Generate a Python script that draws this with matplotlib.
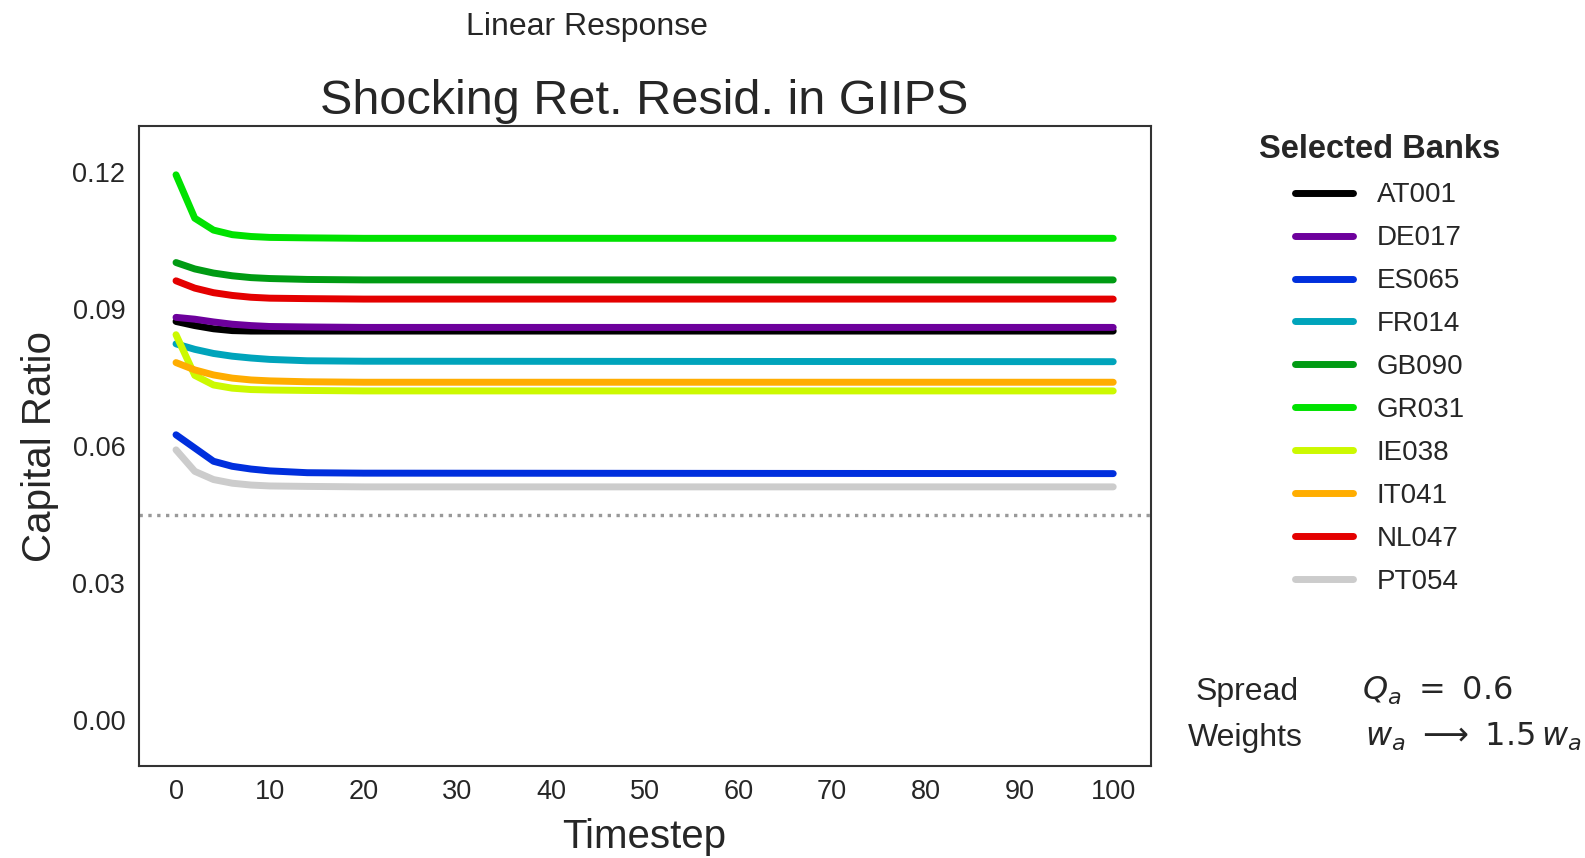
import numpy as np
import matplotlib
matplotlib.use('Agg')
import matplotlib.pyplot as plt
import seaborn as sns

# data
timestep = [0, 2, 4, 6, 8, 10, 14, 20, 100]
banks = ['AT001', 'DE017', 'ES065', 'FR014', 'GB090',
         'GR031', 'IE038', 'IT041', 'NL047', 'PT054']
at001 = [0.0873, 0.0864, 0.0857, 0.0853, 0.0852, 0.0852, 0.0852, 0.0852, 0.0852]
de017 = [0.0882, 0.0878, 0.0872, 0.0867, 0.0864, 0.0862, 0.0861, 0.0860, 0.0860]
es065 = [0.0625, 0.0596, 0.0567, 0.0556, 0.0550, 0.0546, 0.0542, 0.0541, 0.0540]
fr014 = [0.0824, 0.0812, 0.0803, 0.0797, 0.0793, 0.0790, 0.0787, 0.0786, 0.0785]
gb090 = [0.1002, 0.0988, 0.0979, 0.0973, 0.0969, 0.0967, 0.0965, 0.0964, 0.0964]
gr031 = [0.1194, 0.1099, 0.1073, 0.1063, 0.1059, 0.1057, 0.1056, 0.1055, 0.1055]
ie038 = [0.0844, 0.0755, 0.0734, 0.0727, 0.0724, 0.0723, 0.0722, 0.0721, 0.0721]
it041 = [0.0783, 0.0767, 0.0756, 0.0749, 0.0745, 0.0743, 0.0741, 0.0740, 0.0740]
nl047 = [0.0962, 0.0946, 0.0936, 0.0930, 0.0926, 0.0924, 0.0923, 0.0922, 0.0922]
pt054 = [0.0592, 0.0545, 0.0527, 0.0519, 0.0515, 0.0513, 0.0512, 0.0511, 0.0511]
series = [at001, de017, es065, fr014, gb090, gr031, ie038, it041, nl047, pt054]
threshold = 0.045
xticks = [0, 10, 20, 30, 40, 50, 60, 70, 80, 90, 100]
yticks = [0.00, 0.03, 0.06, 0.09, 0.12]

sns.set_style('white')
plt.rcParams['font.family'] = ['Liberation Sans', 'DejaVu Sans']

fig = plt.figure(figsize=(15.85, 8.58), dpi=100)
ax = fig.add_axes([0.0874, 0.1072, 0.6386, 0.7455])

colors = plt.cm.nipy_spectral(np.linspace(0, 1, len(banks)))
for name, vals, c in zip(banks, series, colors):
    ax.plot(timestep, vals, color=c, lw=5, label=name, solid_capstyle='round')
ax.axhline(threshold, color='0.6', ls=':', lw=2.4)

ax.set_xlim(-4, 104)
ax.set_ylim(-0.01, 0.13)
ax.set_xticks(xticks)
ax.set_yticks(yticks)
ax.set_yticklabels(['%.2f' % v for v in yticks])
ax.tick_params(labelsize=19.5, pad=9.5, colors='0.15', length=0)
for s in ax.spines.values():
    s.set_color('0.2')
    s.set_linewidth(1.5)

ax.set_xlabel('Timestep', fontsize=29, color='0.15', labelpad=9)
ax.set_ylabel('Capital Ratio', fontsize=29, color='0.15')
ax.yaxis.set_label_coords(-0.079, 0.5)
ax.set_title('Shocking Ret. Resid. in GIIPS', fontsize=35, pad=9, color='0.15')
fig.text(0.370, 1 - 35.4 / 858, 'Linear Response', ha='center', va='baseline',
         fontsize=23, color='0.15')

leg = ax.legend(title='Selected Banks', loc='upper center',
                bbox_to_anchor=(0.8707, 0.8725), bbox_transform=fig.transFigure,
                frameon=False, fontsize=20, title_fontsize=23.5,
                handlelength=2.1, handletextpad=0.85, labelspacing=0.61)
leg.get_title().set_fontweight('bold')
leg.get_title().set_color('0.15')
for t in leg.get_texts():
    t.set_color('0.15')

fig.text(0.7868, 1 - 700 / 858, 'Spread', ha='center', va='baseline', fontsize=23, color='0.15')
fig.text(0.7855, 1 - 746 / 858, 'Weights', ha='center', va='baseline', fontsize=23, color='0.15')
fig.text(0.859, 1 - 700 / 858, r'$Q_a\ =\ 0.6$', ha='left', va='baseline', fontsize=23, color='0.15')
fig.text(0.861, 1 - 746 / 858, r'$w_a\ \longrightarrow\ 1.5\,w_a$', ha='left', va='baseline',
         fontsize=23, color='0.15')

fig.savefig('out.png', dpi=100)
